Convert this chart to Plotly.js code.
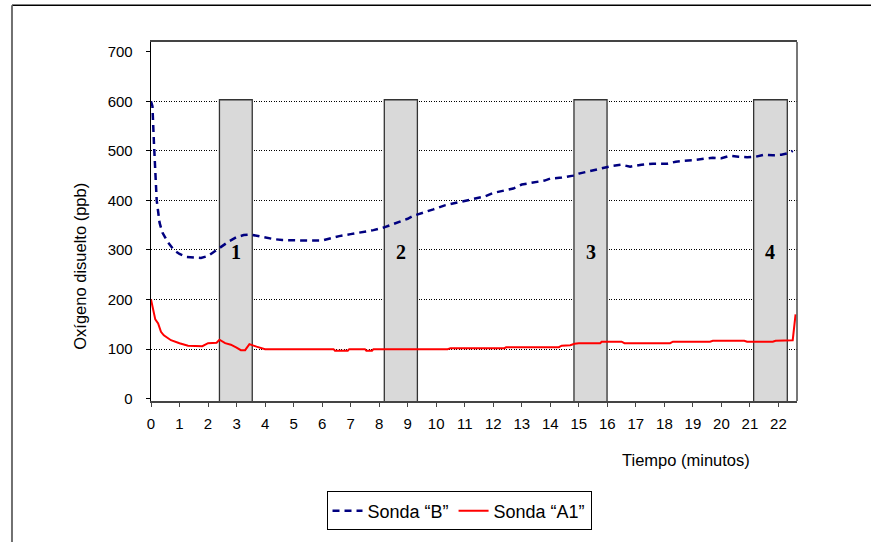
<!DOCTYPE html>
<html>
<head>
<meta charset="utf-8">
<script src="https://cdn.plot.ly/plotly-3.0.1.min.js"></script>
<style>html,body{margin:0;padding:0;background:#fff;}#chart{width:871px;height:542px;}</style>
</head>
<body>
<div id="chart"></div>
<script>
// ---- data ----
var timeB = [0,0.05,0.1,0.15,0.2,0.3,0.4,0.5,0.6,0.8,1.0,1.25,1.5,1.75,2.0,2.25,2.5,2.75,3.0,3.25,3.5,3.75,4.0,4.3,4.6,5.0,5.5,6.0,6.3,6.6,7.0,7.4,7.8,8.2,8.5,8.8,9.0,9.2,9.5,9.9,10.3,10.6,11.0,11.3,11.7,12.0,12.4,12.7,13.0,13.4,13.8,14.0,14.4,14.8,15.0,15.3,15.6,16.0,16.2,16.5,16.8,17.2,17.6,18.1,18.4,18.7,19.0,19.4,19.7,20.0,20.3,20.6,20.9,21.2,21.5,21.8,22.1,22.4,22.5];
var sondaB = [600,590,520,450,400,355,335,325,315,300,292,286,285,284,288,298,308,318,326,330,331,328,326,322,320,319,319,319,324,328,332,336,340,346,352,358,363,369,374,382,390,394,400,403,408,415,420,424,432,436,440,444,446,450,454,458,462,468,470,472,468,472,474,474,478,480,481,484,486,485,490,488,487,488,492,491,492,496,500];

var timeA1 = [0,0.1,0.15,0.25,0.35,0.45,0.7,1.0,1.3,1.8,2.0,2.3,2.4,2.6,2.8,3.0,3.15,3.3,3.45,3.7,4.0,6.4,6.45,6.9,6.95,7.5,7.55,7.75,7.8,10.4,10.5,12.4,12.45,14.3,14.4,14.7,14.85,15.0,15.75,15.8,16.5,16.6,18.2,18.3,19.6,19.7,20.8,20.9,21.8,21.9,22.5,22.6];
var sondaA1 = [200,175,160,152,135,128,118,112,107,106,112,113,119,112,109,103,98,98,110,105,100,100,97,97,100,100,97,97,100,100,102,102,104,104,107,108,111,112,112,115,115,112,112,115,115,117,117,115,115,117,118,170];

var bandStart = [2.40, 8.18, 14.83, 21.13];
var bandEnd   = [3.55, 9.34, 15.99, 22.31];
var bandTop = 603;
var bandLabels = ['1','2','3','4'];
var bandLabelY = 296;

var yTickVals = [0,100,200,300,400,500,600,700];
var yGridVals = [100,200,300,400,500,600];
var xTickVals = [];
for (var i = 0; i <= 22; i++) xTickVals.push(i);

var seriesNames = ['Sonda \u201cB\u201d', 'Sonda \u201cA1\u201d'];
var yTitle = 'Ox\u00edgeno disuelto (ppb)';
var xTitle = 'Tiempo (minutos)';

// ---- build ----
var FONT = 'Liberation Sans, Arial, sans-serif';
var traces = [
  {x: timeB, y: sondaB, name: seriesNames[0], mode: 'lines', type: 'scatter',
   line: {color: '#000080', width: 2.5, dash: '7px,5px'}},
  {x: timeA1, y: sondaA1, name: seriesNames[1], mode: 'lines', type: 'scatter',
   line: {color: '#ff0000', width: 2}}
];

var shapes = [];
var annotations = [];
for (var k = 0; k < bandStart.length; k++) {
  shapes.push({type: 'rect', xref: 'x', yref: 'y', x0: bandStart[k], x1: bandEnd[k], y0: -10, y1: bandTop,
    fillcolor: '#d9d9d9', line: {color: '#333', width: 1.3}, layer: 'between'});
  annotations.push({xref: 'x', yref: 'y', x: (bandStart[k] + bandEnd[k]) / 2, y: bandLabelY,
    text: bandLabels[k], showarrow: false,
    font: {family: 'Liberation Serif, Times New Roman, serif', size: 20, color: '#000', weight: 'bold'}});
}
// plot frame: right side
shapes.push({type: 'line', xref: 'paper', yref: 'paper', x0: 1, x1: 1, y0: 0, y1: 1,
  line: {color: '#555', width: 1.6}, layer: 'above'});
// outer chart frame (top & left)
shapes.push({type: 'line', xref: 'paper', yref: 'paper', x0: -0.2152, x1: 1.13, y0: 1.1025, y1: 1.1025,
  line: {color: '#000', width: 1.4}, layer: 'above'});
shapes.push({type: 'line', xref: 'paper', yref: 'paper', x0: -0.2152, x1: -0.2152, y0: -0.40, y1: 1.1025,
  line: {color: '#707070', width: 2}, layer: 'above'});

annotations.push({xref: 'paper', yref: 'paper', x: -0.1099, y: 0.374, text: yTitle, textangle: -90,
  showarrow: false, xanchor: 'center', yanchor: 'middle', font: {family: FONT, size: 16.5, color: '#000'}});
annotations.push({xref: 'paper', yref: 'paper', x: 0.828, y: -0.1634, text: xTitle,
  showarrow: false, xanchor: 'center', yanchor: 'middle', font: {family: FONT, size: 16.5, color: '#000'}});

var layout = {
  width: 871, height: 542,
  margin: {l: 151, r: 74, t: 42, b: 139, pad: 0},
  paper_bgcolor: '#fff', plot_bgcolor: '#fff',
  font: {family: FONT, size: 15, color: '#000'},
  showlegend: true,
  legend: {orientation: 'h', x: 0.4768, xanchor: 'center', y: -0.252, yanchor: 'top',
    bordercolor: '#000', borderwidth: 1, font: {family: FONT, size: 18, color: '#000'},
    itemwidth: 30, tracegroupgap: 0},
  xaxis: {range: [0, 22.65], tickmode: 'array', tickvals: xTickVals, ticks: 'outside', ticklen: 4,
    tickcolor: '#444', showline: true, linecolor: '#444', linewidth: 1.6, mirror: true,
    showgrid: false, zeroline: false, ticklabelstandoff: 4, tickfont: {size: 15}},
  yaxis: {range: [-4.6, 719.5], tickmode: 'array', tickvals: yTickVals, ticks: 'outside', ticklen: 4,
    tickcolor: '#000', showline: true, linecolor: '#000', linewidth: 1.3,
    showgrid: false, zeroline: false, ticklabelstandoff: 10, tickfont: {size: 15}},
  yaxis2: {overlaying: 'y', matches: 'y', range: [-4.6, 719.5], tickmode: 'array', tickvals: yGridVals,
    showticklabels: false, ticks: '', showline: false, zeroline: false,
    showgrid: true, gridcolor: '#000', gridwidth: 1, griddash: '1px,1.5px'},
  shapes: shapes,
  annotations: annotations
};

// invisible point on yaxis2 so its gridlines (100..600) are drawn
traces.push({x: [timeB[0]], y: [sondaB[0]], yaxis: 'y2', mode: 'markers', marker: {opacity: 0},
  showlegend: false, hoverinfo: 'skip'});

Plotly.newPlot('chart', traces, layout, {staticPlot: true});
</script>
</body>
</html>
